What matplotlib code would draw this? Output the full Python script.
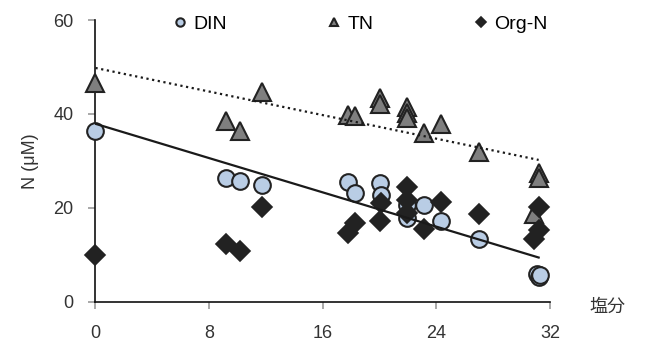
import matplotlib
matplotlib.use("Agg")
import matplotlib.pyplot as plt
import numpy as np

plt.rcParams["font.family"] = ["Liberation Sans", "DejaVu Sans"]

# salinity / concentration pairs for each nitrogen fraction
din_salinity = [0, 9.2, 10.2, 11.7, 17.8, 18.3, 20.0, 20.1, 21.9, 21.9, 23.1, 24.3, 27.0, 31.1, 31.2, 31.3]
din_conc = [36.4, 26.3, 25.8, 24.9, 25.4, 23.2, 25.3, 22.8, 20.5, 17.8, 20.6, 17.1, 13.3, 6.0, 5.3, 5.6]

tn_salinity = [0, 9.2, 10.2, 11.7, 17.8, 18.3, 20.0, 20.0, 21.9, 21.9, 21.9, 23.1, 24.3, 27.0, 30.9, 31.2, 31.2]
tn_conc = [46.5, 38.5, 36.4, 44.7, 39.8, 39.5, 43.3, 42.2, 41.5, 40.3, 39.2, 36.0, 37.9, 31.8, 18.6, 27.5, 26.4]

orgn_salinity = [0, 9.2, 10.2, 11.7, 17.8, 18.3, 20.0, 20.1, 21.9, 21.9, 21.9, 23.1, 24.3, 27.0, 30.9, 31.2, 31.2]
orgn_conc = [10.0, 12.4, 10.8, 20.1, 14.6, 16.7, 17.3, 21.0, 24.4, 21.7, 18.9, 15.5, 21.2, 18.6, 13.3, 20.1, 15.2]

# linear trends (intercept, slope) over the sampled salinity range
din_trend = [37.9, -0.913]
tn_trend = [49.8, -0.628]
trend_range = [0, 31.2]

x_ticks = [0, 8, 16, 24, 32]
y_ticks = [0, 20, 40, 60]

fig = plt.figure(figsize=(6.46, 3.49), dpi=100)
ax = fig.add_axes([0.1478, 0.1355, 0.7036, 0.807])

ax.plot(din_salinity, din_conc, "o", ms=12, mfc="#b9cde5", mec="#222222", mew=1.5,
        ls="none", clip_on=False, label="DIN", zorder=3)
ax.plot(tn_salinity, tn_conc, "^", ms=12.5, mfc="#7f7f7f", mec="#222222", mew=1.5,
        ls="none", clip_on=False, label="TN", zorder=3)
ax.plot(orgn_salinity, orgn_conc, "D", ms=10.5, mfc="#222222", mec="#222222", mew=1.2,
        ls="none", clip_on=False, label="Org-N", zorder=3)

xs = np.array(trend_range)
ax.plot(xs, din_trend[0] + din_trend[1] * xs, color="#1a1a1a", lw=1.6, zorder=4)
ax.plot(xs, tn_trend[0] + tn_trend[1] * xs, color="#1a1a1a", lw=1.6, ls=(0, (1, 1.6)), zorder=4)

ax.set_xlim(0, 32)
ax.set_ylim(0, 60)
ax.set_xticks(x_ticks)
ax.set_yticks(y_ticks)

for side in ["top", "right"]:
    ax.spines[side].set_visible(False)
for side in ["left", "bottom"]:
    ax.spines[side].set_color("#111111")
    ax.spines[side].set_linewidth(1.2)

ax.tick_params(direction="out", length=5, width=1.2, color="#999999",
               labelsize=13, labelcolor="#333333")
ax.tick_params(axis="x", pad=12)
ax.tick_params(axis="y", pad=11)

ax.set_ylabel("N (μM)", fontsize=13, color="#333333", labelpad=10)
ax.text(1.126, -0.019, "塩分", transform=ax.transAxes, fontsize=13,
        family=["Noto Sans CJK JP", "DejaVu Sans"], color="#333333",
        ha="center", va="center")

ax.legend(loc="center", bbox_to_anchor=(0.584, 0.985), ncol=3, frameon=False,
          markerscale=0.5, fontsize=14, handlelength=0.6, handletextpad=0.4,
          columnspacing=5.2, borderaxespad=0)

fig.savefig("out.png", dpi=100)
